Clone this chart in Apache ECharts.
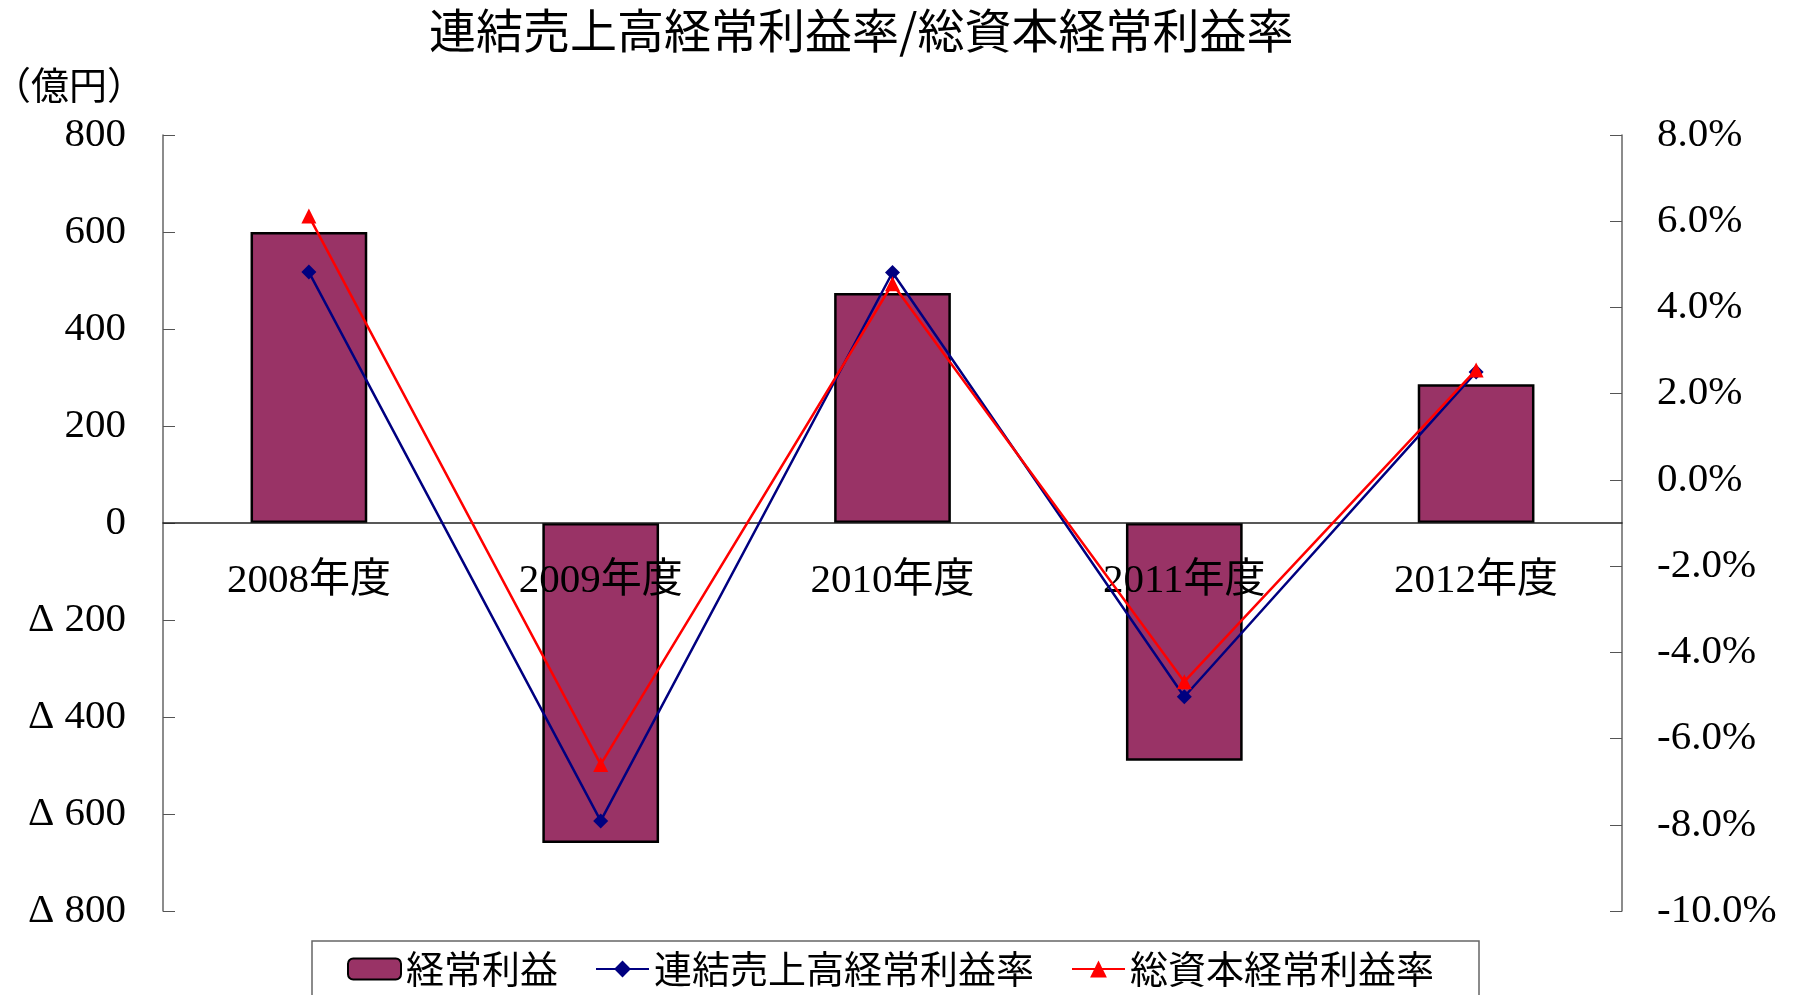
<!DOCTYPE html>
<html>
<head>
<meta charset="utf-8">
<title>連結売上高経常利益率/総資本経常利益率</title>
<script src="https://cdn.jsdelivr.net/npm/echarts@6/dist/echarts.min.js"></script>
<style>
  html, body { margin: 0; padding: 0; background: #fff; }
  #chart { width: 1799px; height: 995px; }
</style>
</head>
<body>
<div id="chart"></div>
<script>
// 年度
var years = ['2008年度', '2009年度', '2010年度', '2011年度', '2012年度'];
// 経常利益（億円）
var ordinaryProfit = [600, -660, 474, -490, 286];
// 連結売上高経常利益率（%）
var salesMargin = [4.82, -7.91, 4.81, -5.03, 2.5];
// 総資本経常利益率（%）
var capitalMargin = [6.12, -6.6, 4.55, -4.68, 2.55];

var serif = "'Liberation Serif', 'Noto Sans CJK JP'";
var cjk = "'Noto Sans CJK JP', 'Liberation Serif'";

var gridTop = 135, gridBottom = 84;
var plotHeight = 995 - gridTop - gridBottom;
// x軸は左軸の0の位置に置く（-800〜800 の中央）
var zeroOffset = -plotHeight / 2;

var chart = echarts.init(document.getElementById('chart'));

var option = {
  animation: false,
  backgroundColor: '#fff',
  title: [
    {
      text: '連結売上高経常利益率/総資本経常利益率',
      left: 424, top: 2,
      textStyle: { fontFamily: cjk, fontSize: 47, fontWeight: 'normal', color: '#000' }
    },
    {
      text: '（億円）',
      left: -12, top: 61,
      textStyle: { fontFamily: cjk, fontSize: 38, fontWeight: 'normal', color: '#000' }
    }
  ],
  legend: {
    left: 312, top: 941,
    padding: [8, 45, 40, 35],
    borderColor: '#666', borderWidth: 1.5,
    itemWidth: 53, itemHeight: 21, itemGap: 37,
    textStyle: { fontFamily: cjk, fontSize: 38, color: '#000', lineHeight: 40 },
    data: ['経常利益', '連結売上高経常利益率', '総資本経常利益率']
  },
  grid: { left: 163, right: 177, top: gridTop, bottom: gridBottom },
  xAxis: {
    type: 'category',
    data: years,
    offset: zeroOffset,
    z: 10,
    axisLine: { onZero: false, lineStyle: { color: '#222', width: 1.5 } },
    axisTick: { inside: true, length: 12, lineStyle: { color: '#555' } },
    axisLabel: { margin: 38, fontFamily: serif, fontSize: 41, color: '#000' }
  },
  yAxis: [
    {
      type: 'value', min: -800, max: 800, interval: 200,
      splitLine: { show: false },
      axisLine: { show: true, lineStyle: { color: '#666', width: 1.5 } },
      axisTick: { show: true, inside: true, length: 12, lineStyle: { color: '#555' } },
      axisLabel: {
        margin: 37, fontFamily: serif, fontSize: 41, color: '#000',
        formatter: function (v) { return v < 0 ? 'Δ ' + (-v) : String(v); }
      }
    },
    {
      type: 'value', min: -10, max: 8, interval: 2,
      position: 'right',
      splitLine: { show: false },
      axisLine: { show: true, lineStyle: { color: '#666', width: 1.5 } },
      axisTick: { show: true, inside: true, length: 12, lineStyle: { color: '#555' } },
      axisLabel: {
        margin: 35, fontFamily: serif, fontSize: 41, color: '#000',
        formatter: function (v) { return v.toFixed(1) + '%'; }
      }
    }
  ],
  series: [
    {
      name: '経常利益',
      type: 'bar',
      yAxisIndex: 0,
      barWidth: '40%',
      data: ordinaryProfit,
      itemStyle: { color: '#993366', borderColor: '#000', borderWidth: 2.5 }
    },
    {
      name: '連結売上高経常利益率',
      type: 'line',
      yAxisIndex: 1,
      z: 11,
      data: salesMargin,
      symbol: 'diamond', symbolSize: 15,
      lineStyle: { color: '#000080', width: 2.5 },
      itemStyle: { color: '#000080' }
    },
    {
      name: '総資本経常利益率',
      type: 'line',
      yAxisIndex: 1,
      z: 12,
      data: capitalMargin,
      symbol: 'triangle', symbolSize: 15,
      lineStyle: { color: '#ff0000', width: 2.5 },
      itemStyle: { color: '#ff0000' }
    }
  ]
};

chart.setOption(option);
</script>
</body>
</html>
